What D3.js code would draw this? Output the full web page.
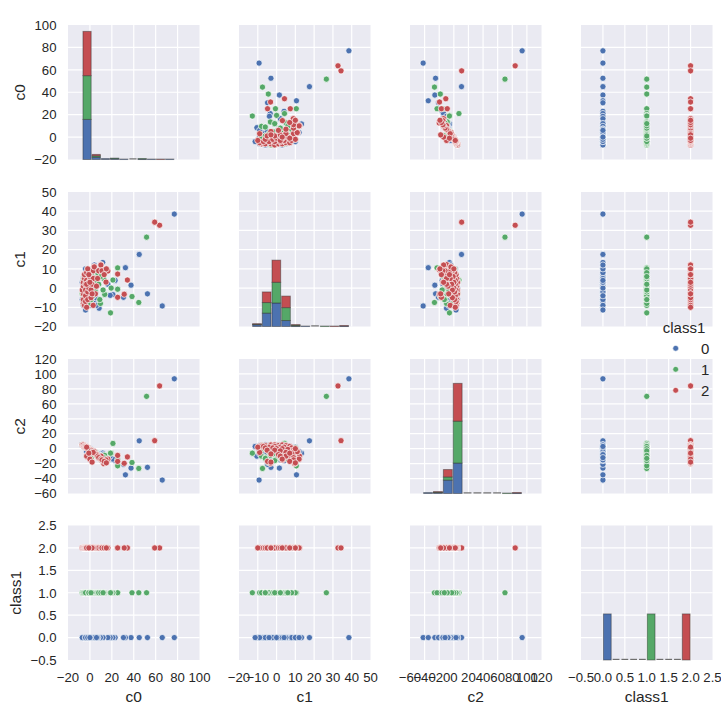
<!DOCTYPE html>
<html><head><meta charset="utf-8">
<script src="https://cdn.jsdelivr.net/npm/d3@7"></script>
<style>body{margin:0;background:#fff}text{font-family:"Liberation Sans",Arial,sans-serif;fill:#262626}</style>
</head><body><svg id="chart" width="721" height="720"></svg>
<script>
// ---------------- data ----------------
const variables = ["c0", "c1", "c2", "class1"];
const classLevels = [0, 1, 2];
const classColors = ["#4C72B0", "#55A868", "#C44E52"];

const c0Domain = [-20, 100];
const c1Domain = [-20, 50];
const c2Domain = [-60, 120];
const classDomain = [-0.5, 2.5];

const c0Ticks = [-20, 0, 20, 40, 60, 80, 100];
const c1Ticks = [-20, -10, 0, 10, 20, 30, 40, 50];
const c2Ticks = [-60, -40, -20, 0, 20, 40, 60, 80, 100, 120];
const classTicks = [-0.5, 0, 0.5, 1, 1.5, 2, 2.5];

// points: [c0, c1, c2]
const class0Points = [
  [77,38.5,93.5],[66,-9.3,-42],[52.5,-3,-25],[45,17.5,10.5],[37.5,1.5,-26],[32.4,10.6,-35],
  [30.6,-4.8,-21],[23,4,-16],[21,-3.4,-14],[18.5,-3.8,-10],[16.4,2,-15],[11.7,13.3,-6],
  [12,-1,-8],[8.4,-10.5,-10],[9.6,7,-9],[7.3,-6,-7],
  [-6,-9,4],[-5,-7,3],[-6,-4,4],[-5,-2,3],[-6,0,5],[-5,2,4],[-6,5,4],[-4,7,3],
  [-3,-10,2],[-2,-8,1],[-3,-5,2],[-2,-3,1],[-3,0,-4],[-2,3,1],[-1,6,0],[-2,9,1],
  [0,-9,-1],[0,-6,-1],[1,-3,-2],[0,0,-1],[1,3,-2],[0,5,0],[2,8,-3],[3,-7,-4],
  [3,-2,-4],[4,2,-5],[5,-5,-6],[6,1,-8],[7,5,-9],[-4,-1,3],[-1,-2,0],[2,0,-3],
  [-7,-6,5],[-7,3,5],[-4,10,2],[4,12,-4],[6,-9,-7],[-4,-11.4,3],[-2,4,-8],[0,-4,-12]
];
const class1Points = [
  [51.7,26.5,70],[44.6,-7.5,-26.5],[38.4,-4.4,-18.5],[25.3,10.5,-23],[25.3,-0.6,-15],
  [21,4.2,7],[19.4,0,-6],[18.8,-12.9,-6],[13.5,-3.3,-9],[12.6,5,-12],[9.6,-8,-10],[5.2,9.5,-5],
  [-6,-8,4],[-5,-6,3],[-7,-3,5],[-6,-1,4],[-5,1,4],[-6,4,5],[-5,6,3],[-3,-9,2],
  [-3,-6,2],[-2,-4,1],[-3,-1,2],[-2,1,1],[-3,4,2],[-1,7,0],[-2,10,1],[0,-8,-1],
  [0,-5,-1],[1,-2,-2],[0,1,-1],[1,4,-2],[2,6,-3],[3,-4,-4],[3,1,-4],[4,5,-5],
  [5,-2,-7],[6,3,-8],[7,8,-10],[-4,-2,3],[-1,-1,0],[2,2,-3],[9,-6,-12],[8,2,-11],
  [10,6,-14],[12,-1,-16],[-1,2,-9],[1,-6,-13]
];
const class2Points = [
  [63.6,32.7,84],[59.1,34.3,10.7],[34.2,4.2,-11],[31.3,-3.2,-19.6],[25.3,-4.8,-17],
  [25.3,7.3,-9],[16.4,8.9,-14],[10.2,12.2,-10],[3.7,11.2,-4],[14.7,3.1,-15],[12.6,9.5,-20],
  [-6,-8,4],[-6,-6,4],[-6,-3,5],[-7,-1,5],[-6,1,4],[-6,3,5],[-5,5,4],[-5,7,3],
  [-5,-9,3],[-4,-7,3],[-4,-4,2],[-4,-1,3],[-4,2,2],[-3,4,2],[-3,8,1],[-2,-6,1],
  [-2,-2,1],[-1,0,0],[-1,3,0],[0,6,-1],[0,9,-2],[1,-5,-2],[1,-1,-2],[2,2,-3],
  [3,5,-5],[3,9,-5],[4,11,-4],[5,-3,-7],[6,1,-8],[7,5,-10],[8,9,-12],[10,12,-14],
  [11,9,-15],[13,7,-17],[15,10,-19],[3,-9,-5],[-2,10,0],[-3,-10,2],
  [-3,2,-10],[0,3,-14],[2,-3,-18],[-1,7,-6]
];

// histogram ranges (10 bins each) and stacked counts per class
const c0HistRange = [-6.8, 77];
const c1HistRange = [-13, 38.5];
const c2HistRange = [-42, 93];
const classHistRange = [0, 2];
const c0HistCounts = [[87,5,2,2,1,0,1,1,0,1],[95,3,0,1,0,0,1,0,0,0],[96,3,0,0,0,0,0,0,1,0]];
const c1HistCounts = [[4,29,51,13,1,1,0,0,0,1],[1,23,45,28,2,0,0,1,0,0],[1,23,48,25,1,0,0,0,1,1]];
const c2HistCounts = [[2,2,29,66,0,0,0,0,0,1],[0,1,7,91,0,0,0,0,1,0],[0,1,16,82,0,0,0,0,0,1]];
const classHistCounts = [[100,0,0,0,0,0,0,0,0,0],[0,0,0,0,0,100,0,0,0,0],[0,0,0,0,0,0,0,0,0,100]];

// ---------------- layout ----------------
const colLeft = [68, 239, 410, 581], colW = 131.5;
const rowTop = [25, 192, 359, 525.5], rowH = 134.5;
const domains = [c0Domain, c1Domain, c2Domain, classDomain];
const ticks = [c0Ticks, c1Ticks, c2Ticks, classTicks];
const histRanges = [c0HistRange, c1HistRange, c2HistRange, classHistRange];
const histCounts = [c0HistCounts, c1HistCounts, c2HistCounts, classHistCounts];
const pointsByClass = [class0Points, class1Points, class2Points];
const fmt = (v, i) => {
  const s = i === 3 ? d3.format(".1f")(Math.abs(v)) : String(Math.abs(v));
  return (v < 0 ? "\u2212" : "") + s;
};
const xScales = variables.map((v, j) => d3.scaleLinear().domain(domains[j]).range([colLeft[j], colLeft[j] + colW]));
const yScales = variables.map((v, i) => d3.scaleLinear().domain(domains[i]).range([rowTop[i] + rowH, rowTop[i]]));

const svg = d3.select("#chart");
const valueOf = (p, k, cls) => k === 3 ? cls : p[k];

// shared diagonal count scale
const maxTotal = d3.max(histCounts, hc => d3.max(d3.range(10), b => d3.sum(hc, c => c[b])));

for (let i = 0; i < 4; i++) {
  for (let j = 0; j < 4; j++) {
    const g = svg.append("g");
    const x = xScales[j], y = yScales[i];
    g.append("rect").attr("x", colLeft[j]).attr("y", rowTop[i]).attr("width", colW).attr("height", rowH).attr("fill", "#EAEAF2");
    g.selectAll("line.vx").data(ticks[j].slice(1, -1)).join("line")
      .attr("x1", d => x(d)).attr("x2", d => x(d)).attr("y1", rowTop[i]).attr("y2", rowTop[i] + rowH)
      .attr("stroke", "#fff").attr("stroke-width", 1.2);
    g.selectAll("line.hy").data(ticks[i].slice(1, -1)).join("line")
      .attr("y1", d => y(d)).attr("y2", d => y(d)).attr("x1", colLeft[j]).attr("x2", colLeft[j] + colW)
      .attr("stroke", "#fff").attr("stroke-width", 1.2);

    if (i === j) {
      const hr = histRanges[j];
      const edges = d3.range(11).map(b => hr[0] + (hr[1] - hr[0]) * b / 10);
      const yc = d3.scaleLinear().domain([0, maxTotal * 1.05]).range([rowTop[i] + rowH, rowTop[i]]);
      const counts = histCounts[j];
      for (let b = 0; b < 10; b++) {
        const x0 = x(edges[b]), x1 = x(edges[b + 1]);
        const total = d3.sum(counts, c => c[b]);
        if (total === 0) {
          g.append("line").attr("x1", x0 + 1).attr("x2", x1 - 1)
            .attr("y1", rowTop[i] + rowH - 0.6).attr("y2", rowTop[i] + rowH - 0.6)
            .attr("stroke", "#6e6e6e").attr("stroke-width", 1.2);
          continue;
        }
        let cum = 0;
        counts.forEach((c, k) => {
          if (c[b] > 0) {
            g.append("rect").attr("x", x0 + 0.5).attr("width", x1 - x0 - 1)
              .attr("y", yc(cum + c[b])).attr("height", Math.max(0.5, yc(cum) - yc(cum + c[b])))
              .attr("fill", classColors[k]).attr("stroke", "#2a2a2a").attr("stroke-opacity", 0.45).attr("stroke-width", 1);
          }
          cum += c[b];
        });
      }
    } else {
      classLevels.forEach(cls => {
        g.selectAll(null).data(pointsByClass[cls]).join("circle")
          .attr("cx", p => x(valueOf(p, j, cls))).attr("cy", p => y(valueOf(p, i, cls)))
          .attr("r", 3.1).attr("fill", classColors[cls]).attr("stroke", "#fff").attr("stroke-width", 0.7);
      });
    }
  }
}

// y tick labels and y labels
const yLabelX = [24.5, 24.5, 24.5, 21];
for (let i = 0; i < 4; i++) {
  svg.append("g").selectAll("text").data(ticks[i]).join("text")
    .attr("x", colLeft[0] - 11.5).attr("y", d => yScales[i](d)).attr("dy", "0.36em")
    .attr("text-anchor", "end").attr("font-size", 13.2).text(d => fmt(d, i));
  const cy = rowTop[i] + rowH / 2;
  svg.append("text").attr("transform", `translate(${yLabelX[i]},${cy}) rotate(-90)`)
    .attr("text-anchor", "middle").attr("font-size", 15.5).text(variables[i]);
}
// x tick labels and x labels
for (let j = 0; j < 4; j++) {
  svg.append("g").selectAll("text").data(ticks[j]).join("text")
    .attr("x", d => xScales[j](d)).attr("y", 681.5)
    .attr("text-anchor", "middle").attr("font-size", 13.2).text(d => fmt(d, j));
  svg.append("text").attr("x", colLeft[j] + colW / 2).attr("y", 702)
    .attr("text-anchor", "middle").attr("font-size", 15.5).text(variables[j]);
}

// legend
const lg = svg.append("g");
lg.append("text").attr("x", 684).attr("y", 332.5).attr("text-anchor", "middle").attr("font-size", 15).text("class1");
classLevels.forEach((cls, k) => {
  const yy = 348.3 + k * 21;
  lg.append("circle").attr("cx", 675.7).attr("cy", yy).attr("r", 2.9).attr("fill", classColors[k]).attr("stroke", "#fff").attr("stroke-width", 0.6);
  lg.append("text").attr("x", 701).attr("y", yy + 5.3).attr("font-size", 15).text(String(cls));
});
</script></body></html>
